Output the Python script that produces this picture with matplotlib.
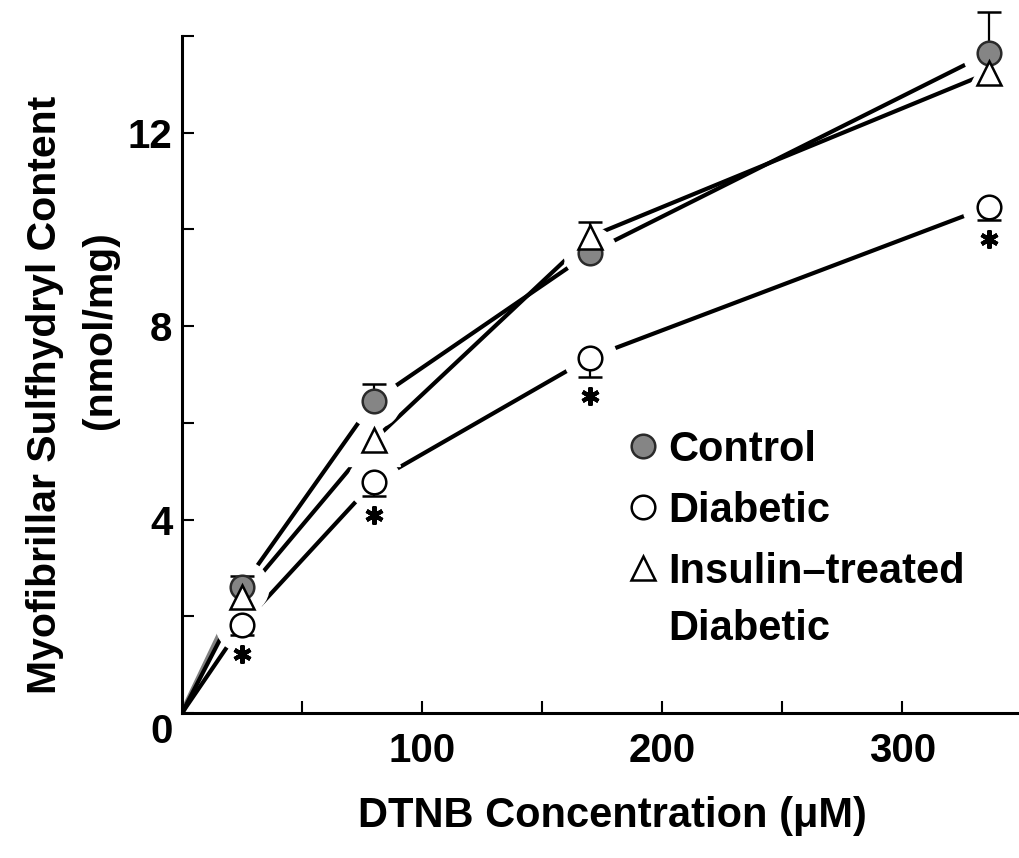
import matplotlib
matplotlib.use("Agg")
import matplotlib.pyplot as plt
from matplotlib.lines import Line2D
import numpy as np

plt.rcParams['font.family'] = ['Liberation Sans', 'DejaVu Sans']

# ---- data ----
dtnb = [0, 25, 80, 170, 336]                 # DTNB concentration (µM)
control = [0, 2.6, 6.46, 9.52, 13.65]
control_err = [0, 0.23, 0.35, 0.64, 0.85]    # upward error
diabetic = [0, 1.82, 4.78, 7.35, 10.47]
diabetic_err = [0, 0.21, 0.29, 0.40, 0.27]   # downward error
insulin = [0, 2.4, 5.65, 9.85, 13.24]
xticks_major = [100, 200, 300]
yticks_major = [0, 4, 8, 12]

W, H = 1020, 858
fig = plt.figure(figsize=(W / 100, H / 100), dpi=100)
ax = fig.add_axes([182 / W, 1 - 713 / H, 1 - 182 / W, (713 - 36) / H])

ax.set_xlim(0, 349)
ax.set_ylim(0, 14)

x = np.array(dtnb)
ms = 17
halo = 38
lw = 3.0

series = [
    (control, dict(marker='o', mfc='#858585', mec='#2a2a2a')),
    (insulin, dict(marker='^', mfc='white', mec='black')),
    (diabetic, dict(marker='o', mfc='white', mec='black')),
]

# connecting lines (first control segment appears grey in the print)
for i, (ys, st) in enumerate(series):
    if i == 0:
        ax.plot(x[:2], ys[:2], color='#808080', lw=lw + 1, zorder=1, solid_capstyle='butt')
        ax.plot(x[1:], ys[1:], color='black', lw=lw, zorder=1, solid_capstyle='butt')
    else:
        ax.plot(x, ys, color='black', lw=lw, zorder=1, solid_capstyle='butt')
# white halos to create gaps around markers
for ys, st in series:
    ax.plot(x[1:], ys[1:], ls='none', marker=st['marker'], ms=halo,
            mfc='white', mec='white', zorder=2)

# error bars
cerr = np.array(control_err)
derr = np.array(diabetic_err)
ax.errorbar(x[1:], control[1:], yerr=[np.zeros(4), cerr[1:]], fmt='none',
            ecolor='black', elinewidth=1.6, capsize=8.5, capthick=1.8,
            zorder=3, clip_on=False)
ax.errorbar(x[1:], diabetic[1:], yerr=[derr[1:], np.zeros(4)], fmt='none',
            ecolor='black', elinewidth=1.6, capsize=8.5, capthick=1.8,
            zorder=3, clip_on=False)

# markers
for ys, st in series:
    ax.plot(x[1:], ys[1:], ls='none', ms=ms, mew=1.8, zorder=4, clip_on=False, **st)

# significance asterisks
ast_y = np.array(diabetic[1:]) - derr[1:] - 0.40
ax.plot(x[1:], ast_y, ls='none', marker=(6, 2, 0), ms=13, mew=3.0,
        color='black', zorder=4)

# axes styling
for s in ['top', 'right']:
    ax.spines[s].set_visible(False)
for s in ['left', 'bottom']:
    ax.spines[s].set_linewidth(2.2)

ax.set_xticks(np.arange(50, 350, 50))
ax.set_xticklabels([str(v) if v in xticks_major else '' for v in range(50, 350, 50)])
ax.set_yticks(np.arange(0, 15, 2))
ax.set_yticklabels([str(v) if v in yticks_major else '' for v in range(0, 15, 2)])
ax.tick_params(direction='in', length=8.6, width=1.5, labelsize=29)
ax.tick_params(axis='x', pad=14)
ax.tick_params(axis='y', pad=7)
for lab in ax.get_xticklabels() + ax.get_yticklabels():
    lab.set_fontweight('bold')
ylabs = ax.get_yticklabels()
ylabs[0].set_va('top')

ax.set_xlabel('DTNB Concentration (μM)', fontsize=30, fontweight='bold')
ax.xaxis.set_label_coords(430 / 838, (713 - 796) / 677)

fig.text(45 / W, 1 - 395 / H, 'Myofibrillar Sulfhydryl Content', rotation=90,
         ha='center', va='center', fontsize=29.5, fontweight='bold')
fig.text(100 / W, 1 - 330 / H, '(nmol/mg)', rotation=90,
         ha='center', va='center', fontsize=29.5, fontweight='bold')

# legend
handles = [
    Line2D([], [], ls='none', marker='o', ms=ms, mfc='#858585', mec='#2a2a2a', mew=1.8),
    Line2D([], [], ls='none', marker='o', ms=ms, mfc='white', mec='black', mew=1.8),
    Line2D([], [], ls='none', marker='^', ms=ms, mfc='white', mec='black', mew=1.8),
]
labels = ['Control', 'Diabetic', 'Insulin\u2013treated']
leg = ax.legend(handles, labels, loc='upper left', bbox_to_anchor=(622 / W, 1 - 430 / H),
                bbox_transform=fig.transFigure, frameon=False, borderpad=0,
                borderaxespad=0, handlelength=1.0, handletextpad=0.1,
                labelspacing=0.5, prop={'size': 30, 'weight': 'bold'})
leg.set_zorder(5)
last = leg.get_texts()[-1]
ann = ax.annotate('Diabetic', xy=(0, 0), xycoords=last, xytext=(0, -12.5),
                  textcoords='offset points', ha='left', va='top',
                  fontsize=30, fontweight='bold', annotation_clip=False)
ann.set_zorder(10)

fig.savefig('out.png', dpi=100)
